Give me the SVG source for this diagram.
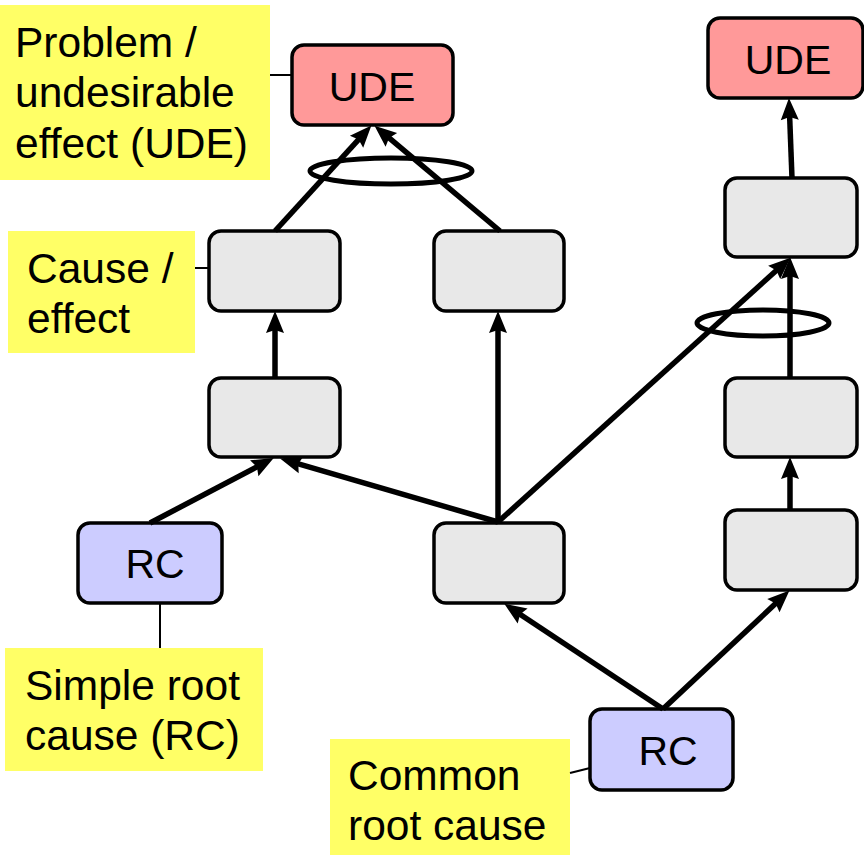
<svg xmlns="http://www.w3.org/2000/svg" width="864" height="855" viewBox="0 0 864 855">
<style>
.note{fill:#ffff66;stroke:none}
.lbl{font-family:"Liberation Sans",Arial,sans-serif;font-size:42.5px;fill:#000}
.box{stroke:#000;stroke-width:3.5}
.ude{fill:#ff9999}
.ce{fill:#e8e8e8}
.rc{fill:#ccccff}
.t{font-family:"Liberation Sans",Arial,sans-serif;font-size:41px;fill:#000;text-anchor:middle}
.thin{stroke:#000;stroke-width:2;fill:none}
.arr{stroke:#000;stroke-width:5.5;fill:none;marker-end:url(#ah)}
.ell{stroke:#000;stroke-width:5;fill:none}
</style>
<defs>
<marker id="ah" markerUnits="userSpaceOnUse" markerWidth="24" markerHeight="20" refX="10" refY="9" orient="auto" viewBox="0 0 24 20" overflow="visible">
<path d="M0,0 L22,9 L0,18 L3,9 Z" fill="#000"/>
</marker>
</defs>
<rect width="864" height="855" fill="#fff"/>

<g id="note-ude">
<rect class="note" x="0" y="5" width="270" height="175"/>
<text class="lbl" x="15" y="57">Problem /</text>
<text class="lbl" x="15" y="107">undesirable</text>
<text class="lbl" x="15" y="158">effect (UDE)</text>
</g>
<g id="note-ce">
<rect class="note" x="8" y="231" width="187" height="122"/>
<text class="lbl" x="27" y="283">Cause /</text>
<text class="lbl" x="27" y="333">effect</text>
</g>
<g id="note-src">
<rect class="note" x="5" y="648" width="258" height="123"/>
<text class="lbl" x="25" y="700">Simple root</text>
<text class="lbl" x="25" y="750">cause (RC)</text>
</g>
<g id="note-crc">
<rect class="note" x="330" y="739" width="240" height="116"/>
<text class="lbl" x="348" y="790">Common</text>
<text class="lbl" x="348" y="840">root cause</text>
</g>

<g id="leaders">
<line class="thin" x1="270" y1="75" x2="292" y2="75"/>
<line class="thin" x1="195" y1="268" x2="209" y2="268"/>
<line class="thin" x1="160" y1="603" x2="160" y2="648"/>
<line class="thin" x1="570" y1="773" x2="590" y2="768"/>
</g>

<g id="ude1"><rect class="box ude" x="292" y="45" width="161" height="80" rx="12"/><text class="t" x="372" y="101">UDE</text></g>
<g id="ude2"><rect class="box ude" x="708" y="18" width="155" height="80" rx="12"/><text class="t" x="788" y="74">UDE</text></g>
<g id="l1"><rect class="box ce" x="209" y="231" width="131" height="80" rx="12"/></g>
<g id="m1"><rect class="box ce" x="434" y="231" width="130" height="80" rx="12"/></g>
<g id="r1"><rect class="box ce" x="725" y="178" width="132" height="79" rx="12"/></g>
<g id="l2"><rect class="box ce" x="209" y="378" width="131" height="79" rx="12"/></g>
<g id="r2"><rect class="box ce" x="725" y="378" width="132" height="79" rx="12"/></g>
<g id="m2"><rect class="box ce" x="434" y="523" width="130" height="80" rx="12"/></g>
<g id="r3"><rect class="box ce" x="725" y="510" width="132" height="80" rx="12"/></g>
<g id="rc1"><rect class="box rc" x="78" y="523" width="144" height="80" rx="12"/><text class="t" x="155" y="578">RC</text></g>
<g id="rc2"><rect class="box rc" x="590" y="709" width="143" height="81" rx="12"/><text class="t" x="668" y="765">RC</text></g>

<g id="connectors">
<line class="arr" x1="275" y1="231" x2="363.3" y2="134.4"/>
<line class="arr" x1="500" y1="231" x2="383.7" y2="133.4"/>
<line class="arr" x1="275" y1="378" x2="275" y2="323"/>
<line class="arr" x1="498" y1="522" x2="498" y2="323"/>
<line class="arr" x1="150" y1="523" x2="263.1" y2="463.6"/>
<line class="arr" x1="498" y1="522" x2="291.6" y2="461.8"/>
<line class="arr" x1="498" y1="522" x2="781.6" y2="265.7"/>
<line class="arr" x1="790" y1="378" x2="790" y2="269"/>
<line class="arr" x1="790" y1="510" x2="790" y2="469"/>
<line class="arr" x1="663" y1="709" x2="514.3" y2="610.5"/>
<line class="arr" x1="663" y1="709" x2="780.7" y2="598.8"/>
<line class="arr" x1="792" y1="178" x2="789.4" y2="110"/>
<ellipse class="ell" cx="391" cy="171" rx="81" ry="13"/>
<ellipse class="ell" cx="763" cy="323" rx="66" ry="13"/>
</g>
</svg>
